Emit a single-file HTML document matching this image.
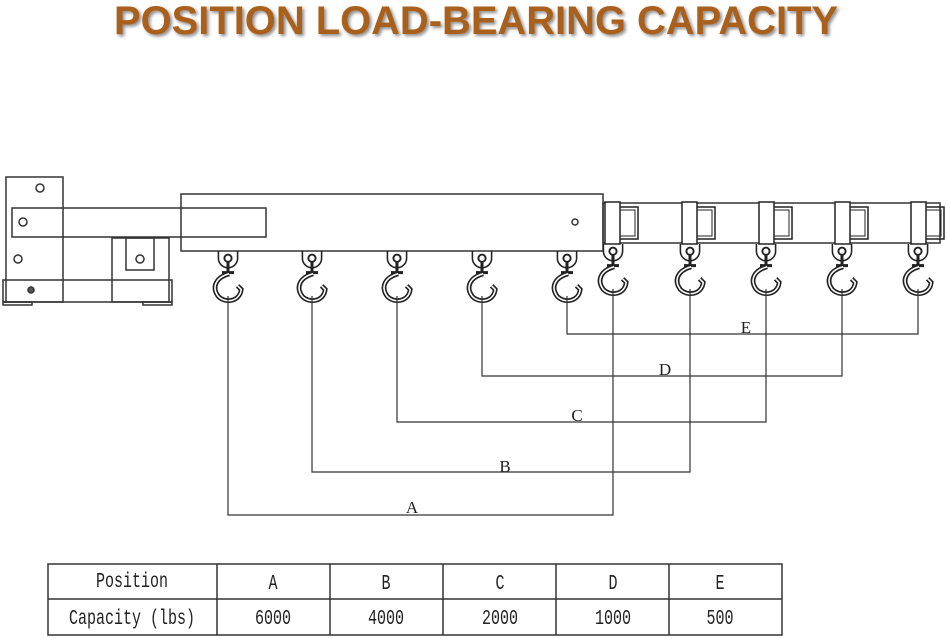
<!DOCTYPE html>
<html><head><meta charset="utf-8"><style>
html,body{margin:0;padding:0;background:#fff;width:948px;height:638px;overflow:hidden}
svg{display:block}
</style></head><body>
<svg width="948" height="638" viewBox="0 0 948 638" xmlns="http://www.w3.org/2000/svg">
<defs>
<filter id="sh" x="-5%" y="-20%" width="110%" height="140%"><feDropShadow dx="2" dy="2" stdDeviation="1.5" flood-color="#000" flood-opacity="0.45"/></filter>
<g id="hk0" fill="none" stroke="#222">
  <path d="M-8,0 V6 A8,8 0 0 0 8,6 V0" stroke-width="1.3"/>
  <circle cx="0" cy="6" r="3" stroke-width="1.6"/>
  <line x1="0" y1="9" x2="0" y2="18" stroke-width="2.5"/>
  <line x1="-5" y1="18" x2="5" y2="18" stroke-width="2.5"/>
  <path d="M1,19 C-10,22 -14,30 -8,38 C-2,44 10,42 11,32 L8,29" stroke-width="4"/>
  <path d="M1,19 C-10,22 -14,30 -8,38 C-2,44 10,42 11,32 L8,29" stroke="#fff" stroke-width="1.3"/>
</g>
<g id="hk" transform="scale(1.2)"><use href="#hk0"/></g>
<g id="cl" fill="none" stroke="#222" stroke-width="1.5">
  <rect x="0" y="0" width="15" height="42" fill="#fff"/>
  <path d="M15,5 H33 V37 H15"/>
  <path d="M15,8 H30 V34 H15" stroke-width="1"/>
</g>
</defs>
<text x="476" y="34" text-anchor="middle" font-family="Liberation Sans, sans-serif" font-weight="bold" font-size="40" fill="#a9601b" filter="url(#sh)" textLength="724" lengthAdjust="spacingAndGlyphs">POSITION LOAD-BEARING CAPACITY</text>

<g fill="none" stroke="#333" stroke-width="1.5">
  <rect x="6" y="177" width="57" height="125"/>
  <rect x="12" y="208" width="254" height="29"/>
  <rect x="112" y="238" width="57" height="64"/>
  <rect x="126" y="238" width="28" height="32"/>
  <rect x="3" y="280" width="169" height="22"/>
  <rect x="3" y="302" width="29" height="3"/>
  <rect x="143" y="302" width="29" height="3"/>
  <circle cx="40" cy="188" r="4"/>
  <circle cx="23" cy="222" r="4"/>
  <circle cx="18" cy="259" r="4"/>
  <circle cx="140" cy="259" r="4"/>
  <circle cx="31" cy="290" r="3" fill="#555"/>
  <rect x="181" y="194" width="422" height="57"/>
  <circle cx="575" cy="222" r="3"/>
  <rect x="603" y="203" width="337" height="40"/>
</g>
<use href="#cl" x="605" y="202"/>
<use href="#cl" x="682" y="202"/>
<use href="#cl" x="759" y="202"/>
<use href="#cl" x="835" y="202"/>
<use href="#cl" x="911" y="202"/>

<use href="#hk" transform="translate(228,251)"/>
<use href="#hk" transform="translate(312,251)"/>
<use href="#hk" transform="translate(397,251)"/>
<use href="#hk" transform="translate(482,251)"/>
<use href="#hk" transform="translate(567,251)"/>
<use href="#hk" transform="translate(613,244)"/>
<use href="#hk" transform="translate(690,244)"/>
<use href="#hk" transform="translate(766,244)"/>
<use href="#hk" transform="translate(842,244)"/>
<use href="#hk" transform="translate(918,244)"/>

<g fill="none" stroke="#333" stroke-width="1.2">
  <path d="M228,296 V515 H613 V289"/>
  <path d="M312,296 V472 H690 V289"/>
  <path d="M397,296 V422 H766 V289"/>
  <path d="M482,296 V376 H842 V289"/>
  <path d="M567,296 V334 H918 V289"/>
</g>
<g font-family="Liberation Serif, serif" font-size="17" fill="#222" text-anchor="middle">
  <text x="412" y="513">A</text>
  <text x="505" y="472">B</text>
  <text x="577" y="421">C</text>
  <text x="665" y="375">D</text>
  <text x="746" y="333">E</text>
</g>

<g fill="none" stroke="#333" stroke-width="1.5">
  <rect x="48" y="564" width="734" height="71"/>
  <line x1="48" y1="599" x2="782" y2="599"/>
  <line x1="217" y1="564" x2="217" y2="635"/>
  <line x1="330" y1="564" x2="330" y2="635"/>
  <line x1="443" y1="564" x2="443" y2="635"/>
  <line x1="556" y1="564" x2="556" y2="635"/>
  <line x1="669" y1="564" x2="669" y2="635"/>
</g>
<g font-family="Liberation Mono, monospace" font-size="21" fill="#222" text-anchor="middle">
  <text x="132" y="587" textLength="72" lengthAdjust="spacingAndGlyphs">Position</text>
  <text x="273" y="589" textLength="9" lengthAdjust="spacingAndGlyphs">A</text>
  <text x="386" y="589" textLength="9" lengthAdjust="spacingAndGlyphs">B</text>
  <text x="500" y="589" textLength="9" lengthAdjust="spacingAndGlyphs">C</text>
  <text x="613" y="589" textLength="9" lengthAdjust="spacingAndGlyphs">D</text>
  <text x="720" y="589" textLength="9" lengthAdjust="spacingAndGlyphs">E</text>
  <text x="132" y="624" textLength="126" lengthAdjust="spacingAndGlyphs">Capacity (lbs)</text>
  <text x="273" y="624" textLength="36" lengthAdjust="spacingAndGlyphs">6000</text>
  <text x="386" y="624" textLength="36" lengthAdjust="spacingAndGlyphs">4000</text>
  <text x="500" y="624" textLength="36" lengthAdjust="spacingAndGlyphs">2000</text>
  <text x="613" y="624" textLength="36" lengthAdjust="spacingAndGlyphs">1000</text>
  <text x="720" y="624" textLength="27" lengthAdjust="spacingAndGlyphs">500</text>
</g>
</svg>
</body></html>
